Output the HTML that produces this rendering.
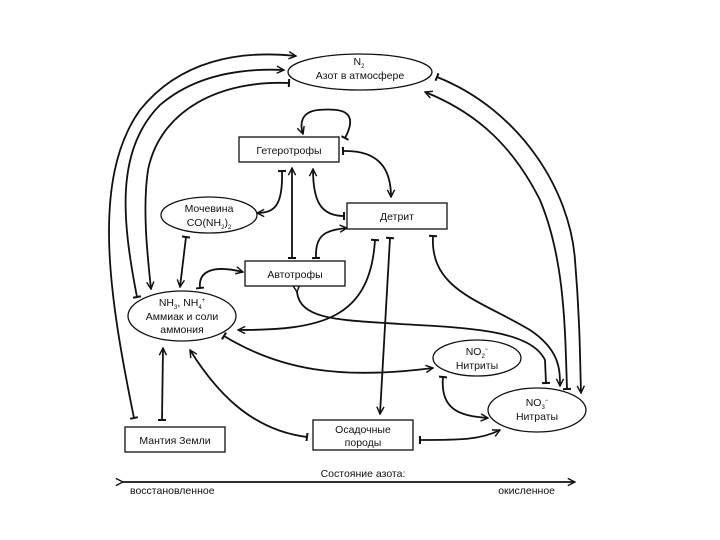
<!DOCTYPE html>
<html><head><meta charset="utf-8"><style>
html,body{margin:0;padding:0;background:#fff}
svg{display:block}
text{font-family:"Liberation Sans",sans-serif;font-size:10.5px;fill:#111;text-anchor:middle}
</style></head><body>
<svg width="720" height="540" viewBox="0 0 720 540" xmlns="http://www.w3.org/2000/svg">
<defs>
<marker id="a" viewBox="0 0 10 10" refX="9" refY="5" markerWidth="9" markerHeight="9" orient="auto" markerUnits="userSpaceOnUse">
<path d="M1,1 L9,5 L1,9" fill="none" stroke="#111" stroke-width="1.6"/></marker>
<marker id="b" viewBox="0 0 10 10" refX="5" refY="5" markerWidth="8" markerHeight="8" orient="auto" markerUnits="userSpaceOnUse">
<path d="M5,0 L5,10" stroke="#111" stroke-width="2.5"/></marker>
</defs>
<g fill="none" stroke="#111" stroke-width="1.8">
<!-- left big loops -->
<path d="M134,418 C110,300 90,180 140,110 C180,60 240,50 296,56" marker-start="url(#b)" marker-end="url(#a)"/>
<path d="M137,297 C122,220 115,150 160,105 C195,75 240,68 284,70" marker-start="url(#b)" marker-end="url(#a)"/>
<path d="M289,83 C220,80 160,110 148,170 C142,210 148,260 151,289" marker-start="url(#b)" marker-end="url(#a)"/>
<!-- right big loops -->
<path d="M437,77 C520,110 570,190 575,260 C580,320 580,360 581,393" marker-start="url(#b)" marker-end="url(#a)"/>
<path d="M567,389 C565,330 565,260 540,200 C510,140 470,110 425,92" marker-start="url(#b)" marker-end="url(#a)"/>
<path d="M433,236 C430,290 480,300 530,330 C560,350 560,370 560,386" marker-start="url(#b)" marker-end="url(#a)"/>
<path d="M297,292 C300,320 340,320 400,324 C470,328 530,330 545,360 L546,383" marker-start="url(#a)" marker-end="url(#b)"/>
<!-- heterotrophs -->
<path d="M345,138 C360,110 340,108 318,110 C300,112 300,125 303,134" marker-start="url(#b)" marker-end="url(#a)"/>
<path d="M343,151 C380,150 391,170 391,197" marker-start="url(#b)" marker-end="url(#a)"/>
<path d="M282,171 C283,205 275,213 257,213" marker-start="url(#b)" marker-end="url(#a)"/>
<path d="M292,258 L292,168" marker-start="url(#b)" marker-end="url(#a)"/>
<path d="M344,216 C320,216 313,200 313,169" marker-start="url(#b)" marker-end="url(#a)"/>
<path d="M316,258 C315,235 325,230 347,228" marker-start="url(#b)" marker-end="url(#a)"/>
<!-- urea, ammonia -->
<path d="M186,237 L180,287" marker-start="url(#b)" marker-end="url(#a)"/>
<path d="M200,288 C198,270 215,265 243,272" marker-start="url(#b)" marker-end="url(#a)"/>
<path d="M375,240 C370,320 320,330 238,330" marker-start="url(#b)" marker-end="url(#a)"/>
<path d="M390,238 L380,414" marker-start="url(#b)" marker-end="url(#a)"/>
<path d="M224,336 C280,370 340,380 433,368" marker-start="url(#b)" marker-end="url(#a)"/>
<path d="M307,437 C250,430 215,390 190,350" marker-start="url(#b)" marker-end="url(#a)"/>
<path d="M162,420 L163,348" marker-start="url(#b)" marker-end="url(#a)"/>
<path d="M443,377 C440,410 460,416 488,418" marker-start="url(#b)" marker-end="url(#a)"/>
<path d="M420,440 C460,440 480,440 500,430" marker-start="url(#b)" marker-end="url(#a)"/>
<!-- bottom axis -->
<path d="M123,482 L575,482" marker-start="url(#a)" marker-end="url(#a)"/>
</g>
<g fill="#fff" stroke="#111" stroke-width="1.3">
<ellipse cx="360" cy="72" rx="72" ry="18"/>
<rect x="239" y="137" width="100" height="25"/>
<ellipse cx="209" cy="215" rx="48" ry="18"/>
<rect x="347" y="203" width="100" height="26"/>
<rect x="245" y="261" width="100" height="25"/>
<ellipse cx="182" cy="316" rx="54" ry="25"/>
<ellipse cx="477" cy="358" rx="44" ry="18"/>
<ellipse cx="537" cy="410" rx="49" ry="22"/>
<rect x="125" y="427" width="100" height="25"/>
<rect x="313" y="420" width="100" height="30"/>
</g>
<text x="359" y="65">N<tspan font-size="6" dy="3">2</tspan></text>
<text x="360" y="79">Азот в атмосфере</text>
<text x="289" y="154">Гетеротрофы</text>
<text x="209" y="212">Мочевина</text>
<text x="209" y="226">CO(NH<tspan font-size="6" dy="3">2</tspan><tspan dy="-3">)</tspan><tspan font-size="6" dy="3">2</tspan></text>
<text x="397" y="220">Детрит</text>
<text x="295" y="278">Автотрофы</text>
<text x="182" y="306">NH<tspan font-size="6" dy="3">3</tspan><tspan dy="-3">, NH</tspan><tspan font-size="6" dy="3">4</tspan><tspan font-size="6" dy="-7">+</tspan></text>
<text x="182" y="320">Аммиак и соли</text>
<text x="182" y="333">аммония</text>
<text x="477" y="355">NO<tspan font-size="6" dy="3">2</tspan><tspan font-size="6" dy="-7">−</tspan></text>
<text x="477" y="369">Нитриты</text>
<text x="537" y="406">NO<tspan font-size="6" dy="3">3</tspan><tspan font-size="6" dy="-7">−</tspan></text>
<text x="537" y="420">Нитраты</text>
<text x="175" y="444">Мантия Земли</text>
<text x="363" y="433">Осадочные</text>
<text x="363" y="446">породы</text>
<text x="363" y="477">Состояние азота:</text>
<text x="130" y="494" style="text-anchor:start">восстановленное</text>
<text x="555" y="494" style="text-anchor:end">окисленное</text>
</svg>
</body></html>
